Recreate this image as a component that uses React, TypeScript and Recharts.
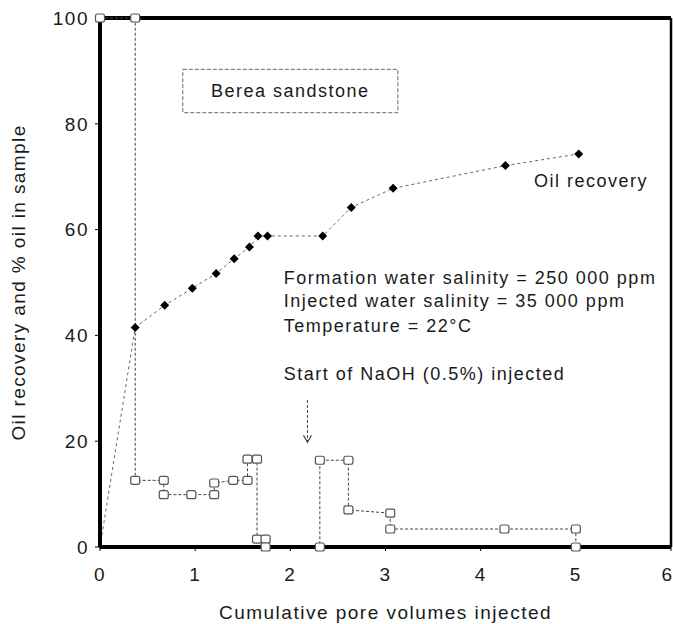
import React from 'react';
import {
  LineChart,
  Line,
  XAxis,
  YAxis,
  ReferenceLine,
  ReferenceArea,
  ReferenceDot,
} from 'recharts';

// cumulative pore volumes injected vs oil recovery (%)
const pvRecovery = [0, 0.37, 0.68, 0.97, 1.22, 1.41, 1.57, 1.66, 1.76, 2.34, 2.64, 3.08, 4.26, 5.03];
const oilRecovery = [0, 41.5, 45.7, 48.9, 51.7, 54.5, 56.7, 58.8, 58.8, 58.8, 64.2, 67.8, 72.1, 74.3];

// cumulative pore volumes injected vs % oil in sample
const pvSample = [0, 0.37, 0.37, 0.67, 0.67, 0.96, 1.2, 1.2, 1.4, 1.55, 1.55, 1.65, 1.65, 1.74, 1.74, 2.31, 2.31, 2.61, 2.61, 3.05, 3.05, 4.25, 5.0, 5.0];
const oilInSample = [100, 100, 12.6, 12.6, 9.9, 9.9, 9.9, 12.1, 12.6, 12.6, 16.6, 16.6, 1.5, 1.5, 0, 0, 16.4, 16.4, 7.0, 6.4, 3.4, 3.4, 3.4, 0];

const xTicks = [0, 1, 2, 3, 4, 5, 6];
const yTicks = [0, 20, 40, 60, 80, 100];

const notes = [
  { x: 1.92, y: 50.9, text: 'Formation water salinity = 250 000 ppm' },
  { x: 1.92, y: 46.5, text: 'Injected water salinity = 35 000 ppm' },
  { x: 1.92, y: 41.9, text: 'Temperature = 22°C' },
  { x: 1.92, y: 32.8, text: 'Start of NaOH (0.5%) injected' },
  { x: 4.55, y: 69.3, text: 'Oil recovery' },
];

const recoveryData = pvRecovery.map((pv, i) => ({ pv, value: oilRecovery[i] }));
const sampleData = pvSample.map((pv, i) => ({ pv, value: oilInSample[i] }));

if (typeof document !== 'undefined') document.body.style.margin = '0';

const FONT = '"Liberation Sans", Arial, sans-serif';
const textStyle = { fontFamily: FONT, fontSize: 18, letterSpacing: 1.5, fill: '#1a1a1a' };

const Diamond = (props: any) => {
  const { cx, cy, index } = props;
  if (index === 0 || cx == null) return <g key={`d-${index}`} />;
  return (
    <path
      key={`d-${index}`}
      d={`M${cx},${cy - 4.5}L${cx + 4.5},${cy}L${cx},${cy + 4.5}L${cx - 4.5},${cy}Z`}
      fill="#000"
    />
  );
};

const Square = (props: any) => {
  const { cx, cy, index } = props;
  if (cx == null) return <g key={`s-${index}`} />;
  return (
    <rect
      key={`s-${index}`}
      x={cx - 4.5}
      y={cy - 4}
      width={9}
      height={8}
      rx={2}
      fill="#fff"
      stroke="#555"
      strokeWidth={1.2}
    />
  );
};

const ArrowHead = (props: any) => {
  const { cx, cy } = props;
  return <path d={`M${cx - 4},${cy - 7}L${cx},${cy}L${cx + 4},${cy - 7}`} fill="none" stroke="#444" strokeWidth={1.2} />;
};

export default function App() {
  return (
    <div style={{ width: 673, height: 624, background: '#fff' }}>
      <LineChart width={673} height={624} margin={{ top: 18, right: 2, left: 0, bottom: 0 }}>
        <XAxis
          type="number"
          dataKey="pv"
          domain={[0, 6]}
          ticks={xTicks}
          height={77}
          axisLine={{ stroke: '#000', strokeWidth: 4 }}
          tickLine={{ stroke: '#000' }}
          tickSize={4}
          tickMargin={17}
          tick={{ ...textStyle, fontSize: 19 }}
          label={{ value: 'Cumulative pore volumes injected', position: 'insideBottom', offset: 5, style: { ...textStyle, fontSize: 19, letterSpacing: 1.5, textAnchor: 'middle' } }}
        />
        <YAxis
          type="number"
          domain={[0, 100]}
          ticks={yTicks}
          width={100}
          axisLine={{ stroke: '#000', strokeWidth: 4 }}
          tickLine={{ stroke: '#000' }}
          tickSize={5}
          tickMargin={6}
          tick={{ ...textStyle, fontSize: 19 }}
          label={{ value: 'Oil recovery and % oil in sample', angle: -90, position: 'insideLeft', offset: 18, style: { ...textStyle, fontSize: 19, letterSpacing: 1.4, textAnchor: 'middle' } }}
        />
        <ReferenceLine y={100} stroke="#000" strokeWidth={4} />
        <ReferenceLine x={6} stroke="#000" strokeWidth={2.5} />
        <ReferenceArea
          x1={0.87}
          x2={3.13}
          y1={82.1}
          y2={90.3}
          fill="none"
          fillOpacity={0}
          stroke="#666"
          strokeDasharray="4 2"
          label={{ value: 'Berea sandstone', position: 'center', style: { ...textStyle, textAnchor: 'middle' } }}
        />
        <ReferenceLine
          segment={[{ x: 2.18, y: 27.8 }, { x: 2.18, y: 19.8 }]}
          stroke="#444"
          strokeDasharray="3 2"
        />
        <ReferenceDot x={2.18} y={19.8} r={4} shape={ArrowHead} />
        {notes.map((n) => (
          <ReferenceDot
            key={n.text}
            x={n.x}
            y={n.y}
            r={1}
            fill="none"
            stroke="none"
            label={{ value: n.text, position: 'right', offset: 0, style: textStyle }}
          />
        ))}
        <Line
          data={sampleData}
          dataKey="value"
          type="linear"
          stroke="#444"
          strokeWidth={1}
          strokeDasharray="3 2"
          dot={Square}
          activeDot={false}
          isAnimationActive={false}
        />
        <Line
          data={recoveryData}
          dataKey="value"
          type="linear"
          stroke="#666"
          strokeWidth={1}
          strokeDasharray="3 3"
          dot={Diamond}
          activeDot={false}
          isAnimationActive={false}
        />
      </LineChart>
    </div>
  );
}
